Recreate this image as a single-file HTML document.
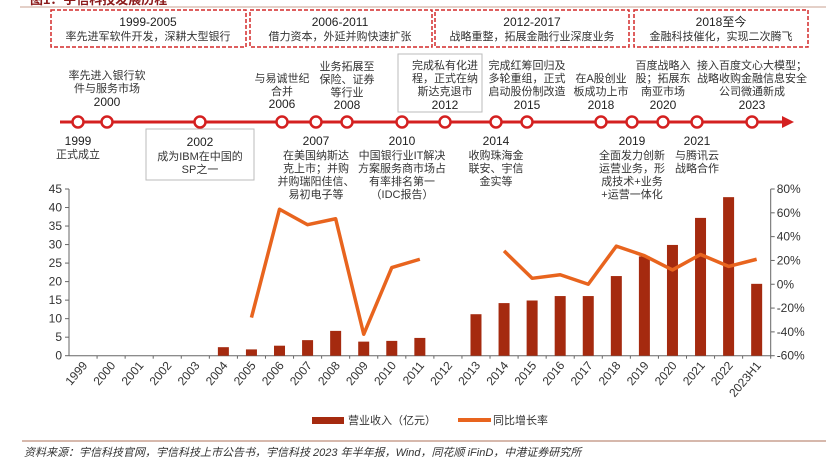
<!DOCTYPE html>
<html><head><meta charset="utf-8"><style>
html,body{margin:0;padding:0;background:#fff;}
svg{display:block;font-family:"Liberation Sans","Noto Sans CJK SC",sans-serif;}
.cn{font-size:11px;fill:#333;}
.yr{font-size:12px;fill:#222;}
.ax{font-size:12px;fill:#333;}
</style></head><body>
<svg id="root" width="826" height="464" viewBox="0 0 826 464">
<text x="30" y="4" style="font-size:13px;fill:#8b1a1a;font-weight:bold">图1：宇信科技发展历程</text>
<line x1="20" y1="7" x2="826" y2="7" stroke="#c9a090" stroke-width="1"/>
<g fill="none" stroke="#d42a2a" stroke-width="1.5" stroke-dasharray="4,2">
<rect x="51" y="10" width="195" height="37"/>
<rect x="250" y="10" width="182" height="37"/>
<rect x="435" y="10" width="194" height="37"/>
<rect x="634" y="10" width="174" height="37"/>
</g>
<g text-anchor="middle">
<text x="148" y="26" class="yr">1999-2005</text><text x="148" y="40" class="cn">率先进军软件开发，深耕大型银行</text>
<text x="340" y="26" class="yr">2006-2011</text><text x="340" y="40" class="cn">借力资本，外延并购快速扩张</text>
<text x="532" y="26" class="yr">2012-2017</text><text x="532" y="40" class="cn">战略重整，拓展金融行业深度业务</text>
<text x="721" y="26" class="yr">2018至今</text><text x="721" y="40" class="cn">金融科技催化，实现二次腾飞</text>
</g>
<rect x="146" y="129" width="108" height="51" fill="none" stroke="#bbb"/>
<rect x="398" y="54" width="84" height="58" fill="none" stroke="#bbb"/>
<g>
<line x1="60" y1="122" x2="782" y2="122" stroke="#d42020" stroke-width="3"/>
<polygon points="782,116 794,122 782,128" fill="#d42020"/>
<g id="dots" fill="#fff" stroke="#d42020" stroke-width="2.5"></g>
</g>
<g text-anchor="middle">
<text x="107" y="79" class="cn">率先进入银行软</text><text x="107" y="92" class="cn">件与服务市场</text><text x="107" y="106" class="yr">2000</text>
<text x="78" y="145" class="yr">1999</text><text x="78" y="158" class="cn">正式成立</text>
<text x="200" y="146" class="yr">2002</text><text x="200" y="160" class="cn">成为IBM在中国的</text><text x="200" y="173" class="cn">SP之一</text>
<text x="282" y="82" class="cn">与易诚世纪</text><text x="282" y="95" class="cn">合并</text><text x="282" y="108" class="yr">2006</text>
<text x="347" y="70" class="cn">业务拓展至</text><text x="347" y="83" class="cn">保险、证券</text><text x="347" y="96" class="cn">等行业</text><text x="347" y="109" class="yr">2008</text>
<text x="316" y="145" class="yr">2007</text><text x="316" y="159" class="cn">在美国纳斯达</text><text x="316" y="172" class="cn">克上市；并购</text><text x="316" y="185" class="cn">并购瑞阳佳信、</text><text x="316" y="198" class="cn">易初电子等</text>
<text x="402" y="145" class="yr">2010</text><text x="402" y="159" class="cn">中国银行业IT解决</text><text x="402" y="172" class="cn">方案服务商市场占</text><text x="402" y="185" class="cn">有率排名第一</text><text x="402" y="198" class="cn">（IDC报告）</text>
<text x="445" y="69" class="cn">完成私有化进</text><text x="445" y="82" class="cn">程，正式在纳</text><text x="445" y="95" class="cn">斯达克退市</text><text x="445" y="109" class="yr">2012</text>
<text x="496" y="145" class="yr">2014</text><text x="496" y="159" class="cn">收购珠海金</text><text x="496" y="172" class="cn">联安、宇信</text><text x="496" y="185" class="cn">金实等</text>
<text x="527" y="69" class="cn">完成红筹回归及</text><text x="527" y="82" class="cn">多轮重组，正式</text><text x="527" y="95" class="cn">启动股份制改造</text><text x="527" y="109" class="yr">2015</text>
<text x="601" y="82" class="cn">在A股创业</text><text x="601" y="95" class="cn">板成功上市</text><text x="601" y="109" class="yr">2018</text>
<text x="632" y="145" class="yr">2019</text><text x="632" y="159" class="cn">全面发力创新</text><text x="632" y="172" class="cn">运营业务，形</text><text x="632" y="185" class="cn">成技术+业务</text><text x="632" y="198" class="cn">+运营一体化</text>
<text x="663" y="69" class="cn">百度战略入</text><text x="663" y="82" class="cn">股；拓展东</text><text x="663" y="95" class="cn">南亚市场</text><text x="663" y="109" class="yr">2020</text>
<text x="697" y="145" class="yr">2021</text><text x="697" y="159" class="cn">与腾讯云</text><text x="697" y="172" class="cn">战略合作</text>
<text x="752" y="69" class="cn">接入百度文心大模型；</text><text x="752" y="82" class="cn">战略收购金融信息安全</text><text x="752" y="95" class="cn">公司微通新成</text><text x="752" y="109" class="yr">2023</text>
</g>
<g id="chart"></g>
<g>
<rect x="312" y="417" width="32" height="7" fill="#a52a0f"/>
<text x="348" y="424" class="cn">营业收入（亿元）</text>
<rect x="458" y="418" width="33" height="4" fill="#e8641e"/>
<text x="493" y="424" class="cn">同比增长率</text>
</g>
<line x1="22" y1="441" x2="826" y2="441" stroke="#c9a090" stroke-width="1.5"/>
<text x="24" y="456" style="font-size:11px;fill:#333;font-style:italic">资料来源：宇信科技官网，宇信科技上市公告书，宇信科技 2023 年半年报，Wind，同花顺 iFinD，中港证券研究所</text>
</svg>
<script>
const dotYears=[1999,2000,2002,2006,2007,2008,2010,2012,2014,2015,2018,2019,2020,2021,2023];
const dotX=[78,107,200,282,316,347,402,445,496,527,601,632,663,697,752];
const categories=['1999','2000','2001','2002','2003','2004','2005','2006','2007','2008','2009','2010','2011','2012','2013','2014','2015','2016','2017','2018','2019','2020','2021','2022','2023H1'];
const revenue=[null,null,null,null,null,2.3,1.7,2.7,4.2,6.7,3.8,4.0,4.8,null,11.2,14.2,14.9,16.1,16.1,21.5,26.8,29.9,37.2,42.8,19.4];
const growth=[null,null,null,null,null,null,-28,63,50,55,-42,14,21,null,null,28,5,8,0,32,24,12,25,15,21];
const leftTicks=[0,5,10,15,20,25,30,35,40,45];
const rightTicks=[-60,-40,-20,0,20,40,60,80];
const NS='http://www.w3.org/2000/svg';
function mk(t,a,p){const e=document.createElementNS(NS,t);for(const k in a)e.setAttribute(k,a[k]);p.appendChild(e);return e;}
const dots=document.getElementById('dots');
dotX.forEach((x,i)=>{const c=mk('circle',{cx:x,cy:122,r:5.5},dots);

});
const g=document.getElementById('chart');
const L=69,R=770.7,T=189,B=355.7,band=(R-L)/categories.length;
const xc=i=>L+band*(i+0.5);
const yl=v=>B-(v-0)/45*(B-T);
const yr=v=>B-(v+60)/140*(B-T);
const la=mk('line',{x1:L,y1:T,x2:L,y2:B,stroke:'#666'},g);

const ra=mk('line',{x1:R,y1:T,x2:R,y2:B,stroke:'#666'},g);

const xa=mk('line',{x1:L,y1:B,x2:R,y2:B,stroke:'#666'},g);

leftTicks.forEach(v=>{mk('line',{x1:L-4,y1:yl(v),x2:L,y2:yl(v),stroke:'#666'},g);
const t=mk('text',{x:L-7,y:yl(v)+4,'text-anchor':'end',class:'ax'},g);t.textContent=v;
});
rightTicks.forEach(v=>{mk('line',{x1:R,y1:yr(v),x2:R+4,y2:yr(v),stroke:'#666'},g);
const t=mk('text',{x:R+6,y:yr(v)+4,class:'ax'},g);t.textContent=v+'%';
});
categories.forEach((c,i)=>{const x=L+band*(i+1);mk('line',{x1:x,y1:B,x2:x,y2:B+3,stroke:'#666'},g);
const t=mk('text',{x:xc(i)+5,y:B+10,'text-anchor':'end',class:'ax',transform:`rotate(-50 ${xc(i)+5} ${B+10})`},g);t.textContent=c;

if(revenue[i]!=null){const b=mk('rect',{x:xc(i)-5.5,y:yl(revenue[i]),width:11,height:B-yl(revenue[i]),fill:'#a52a0f'},g);
}});
let seg=[];const segs=[];
growth.forEach((v,i)=>{if(v==null){if(seg.length)segs.push(seg);seg=[];}else seg.push(xc(i)+','+yr(v));});
if(seg.length)segs.push(seg);
segs.forEach((s,k)=>{const p=mk('polyline',{points:s.join(' '),fill:'none',stroke:'#e8641e','stroke-width':3.5,'stroke-linejoin':'round'},g);
});
</script>
</body></html>
